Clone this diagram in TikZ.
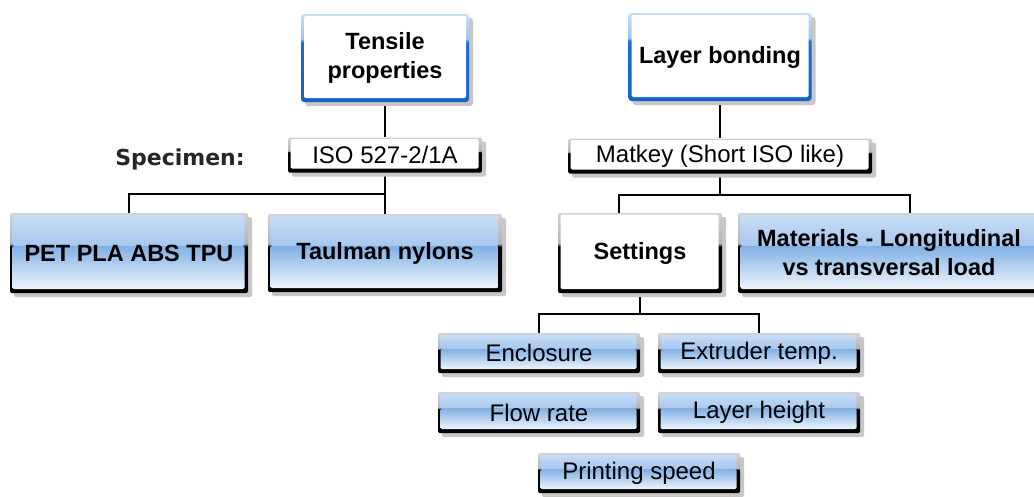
\documentclass[tikz,border=0pt]{standalone}
\usepackage{fontspec}
\setmainfont{Liberation Sans}
\newfontfamily\labelfont{DejaVu Sans}
\usetikzlibrary{shadows,backgrounds,calc}

% glossy blue fill
\definecolor{glossTop}{HTML}{C9DEF5}
\definecolor{glossUp}{HTML}{A6C7EE}
\definecolor{glossLow}{HTML}{80B0E5}
\definecolor{glossMid}{HTML}{A2C5EE}
\definecolor{glossBot}{HTML}{EEF5FC}

% frame colours: black lower part, light top
\definecolor{edgeTop}{HTML}{D2D2D2}
\definecolor{edgeMid}{HTML}{B4B4B4}
\pgfdeclareverticalshading{blackedge}{100bp}{color(0bp)=(black); color(25bp)=(black);
  color(54bp)=(black); color(56bp)=(edgeMid); color(75bp)=(edgeTop); color(100bp)=(edgeTop)}

% frame colours: blue lower part, light blue top
\definecolor{blueTop}{HTML}{C8DEF6}
\definecolor{blueUp}{HTML}{A0C4EE}
\definecolor{blueLow}{HTML}{1C6DD4}
\definecolor{blueBot}{HTML}{1462CA}
\pgfdeclareverticalshading{blueedge}{100bp}{color(0bp)=(blueBot); color(25bp)=(blueBot);
  color(59bp)=(blueLow); color(61bp)=(blueUp); color(75bp)=(blueTop); color(100bp)=(blueTop)}

\tikzset{
  boxbase/.style={rectangle, inner sep=0pt, align=center, text=black,
    drop shadow={shadow xshift=4pt, shadow yshift=-4pt, fill=black!22, opacity=1}},
  topbox/.style={boxbase, rounded corners=3pt, shading=blueedge,
    font=\bfseries\fontsize{23.5}{29}\selectfont,
    path picture={\fill[white, rounded corners=1.5pt]
      ([xshift=3pt,yshift=4pt]path picture bounding box.south west) rectangle
      ([xshift=-3pt,yshift=-2pt]path picture bounding box.north east);}},
  whitebox/.style={boxbase, rounded corners=1.5pt, shading=blackedge,
    path picture={\fill[white]
      ([xshift=2.5pt,yshift=4pt]path picture bounding box.south west) rectangle
      ([xshift=-3.5pt,yshift=-1.5pt]path picture bounding box.north east);}},
  % two-part gloss: light upper part, darker lower part fading to white
  glossbox/.style={boxbase, rounded corners=1.5pt, shading=blackedge,
    path picture={
      \coordinate (ga) at ([xshift=2.5pt,yshift=4pt]path picture bounding box.south west);
      \coordinate (gb) at ([xshift=-3.5pt,yshift=-1.5pt]path picture bounding box.north east);
      \coordinate (gl) at ($(ga)!0.58!(ga|-gb)$);
      \coordinate (gr) at ($(ga-|gb)!0.58!(gb)$);
      \shade[top color=glossLow, middle color=glossMid, bottom color=glossBot] (ga) rectangle (gr);
      \shade[top color=glossTop, bottom color=glossUp] (gl) rectangle (gb);}},
  bigtext/.style={font=\bfseries\fontsize{23.5}{29}\selectfont},
  smalltext/.style={font=\fontsize{24}{28}\selectfont},
  conn/.style={line width=1.4pt, black},
}

\begin{document}
\begin{tikzpicture}[x=1pt,y=-1pt]
\useasboundingbox (0,0) rectangle (1034,496);

% --- tensile branch
\node[topbox, minimum width=168pt, minimum height=88pt] (tensile) at (385,58) {Tensile\\properties};
\node[whitebox, smalltext, minimum width=194pt, minimum height=35pt] (iso) at (385,155) {ISO 527-2/1A};
\node[font=\labelfont\bfseries\fontsize{22}{26}\selectfont, text=black!85] (specimen) at (180,159) {Specimen:};
\node[glossbox, bigtext, minimum width=238pt, minimum height=80pt] (pet) at (129,253) {PET PLA ABS TPU};
\node[glossbox, bigtext, minimum width=234pt, minimum height=78pt] (taulman) at (385,253) {Taulman nylons};

% --- layer bonding branch
\node[topbox, minimum width=183pt, minimum height=88pt] (layer) at (720,57) {Layer bonding};
\node[whitebox, smalltext, minimum width=304pt, minimum height=35pt] (matkey) at (720,156) {Matkey (Short ISO like)};
\node[whitebox, bigtext, minimum width=164pt, minimum height=80pt] (settings) at (640,253) {Settings};
\node[glossbox, bigtext, minimum width=302pt, minimum height=80pt] (materials) at (889,253) {Materials - Longitudinal\\vs transversal load};

% --- settings parameters
\node[glossbox, smalltext, minimum width=202pt, minimum height=40pt] (enclosure) at (539,353) {Enclosure};
\node[glossbox, smalltext, minimum width=202pt, minimum height=40pt] (extruder) at (759,353) {Extruder temp.};
\node[glossbox, smalltext, minimum width=202pt, minimum height=41pt] (flow) at (539,412.5) {Flow rate};
\node[glossbox, smalltext, minimum width=202pt, minimum height=41pt] (height) at (759,412.5) {Layer height};
\node[glossbox, smalltext, minimum width=202pt, minimum height=40pt] (speed) at (639,473) {Printing speed};

% --- connectors
\coordinate (lbus) at (385,194);
\coordinate (rbus) at (720,195);
\coordinate (sbus) at (640,314);
\begin{scope}[on background layer]
  \fill[white] (0,0) rectangle (1034,496);
  \draw[conn] (tensile.south) -- (iso.north);
  \draw[conn] (iso.south) -- (taulman.north);
  \draw[conn] (pet.north) |- (lbus);
  \draw[conn] (layer.south) -- (matkey.north);
  \draw[conn] (matkey.south) -- (rbus);
  \draw[conn] ([xshift=-21pt]settings.north) |- (rbus) -| ([xshift=21pt]materials.north);
  \draw[conn] (settings.south) -- (sbus);
  \draw[conn] (enclosure.north) |- (sbus) -| (extruder.north);
\end{scope}
\end{tikzpicture}
\end{document}
